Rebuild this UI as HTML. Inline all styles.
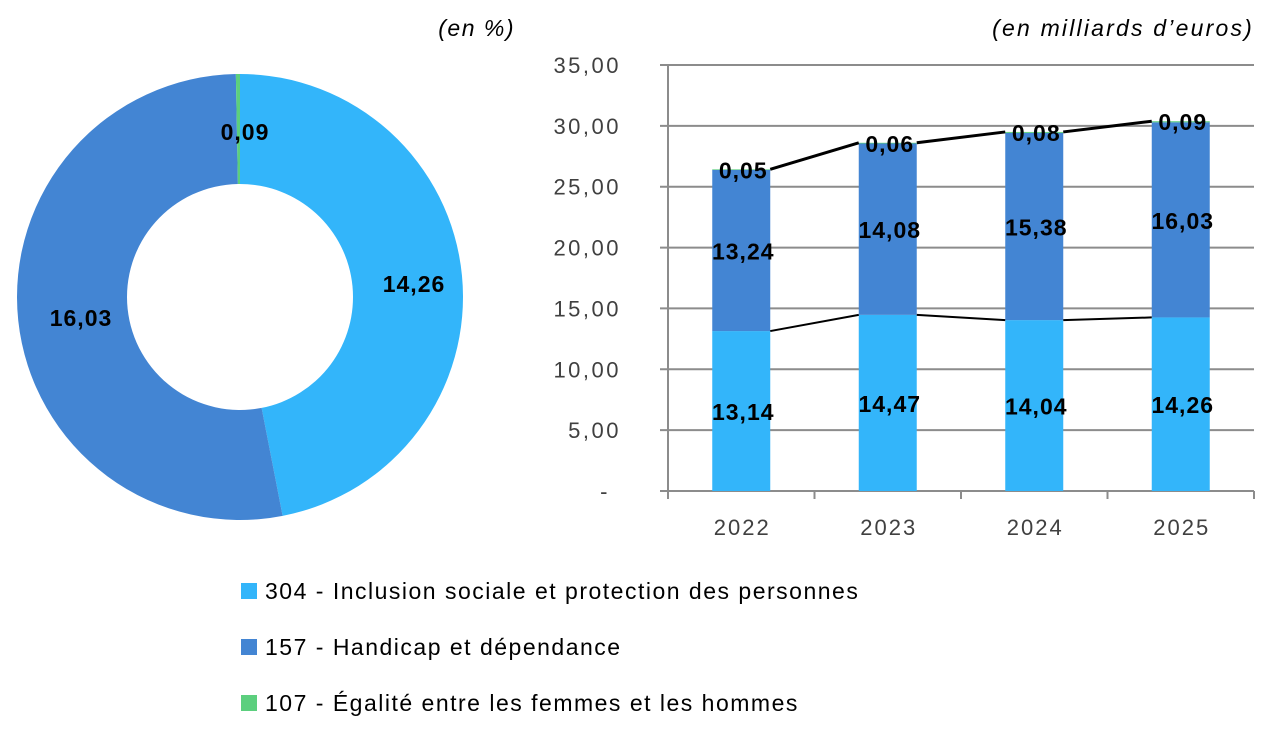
<!DOCTYPE html>
<html><head><meta charset="utf-8"><style>
body{margin:0;width:1280px;height:733px;background:#fff;font-family:"Liberation Sans",sans-serif;overflow:hidden}
svg text{font-family:"Liberation Sans",sans-serif}
</style></head><body>
<svg id="c" width="1280" height="733">
<text x="515" y="36" font-size="23" letter-spacing="1.5" font-style="italic" text-anchor="end" fill="#000">(en %)</text>
<text x="1254" y="36" font-size="23" letter-spacing="2.2" font-style="italic" text-anchor="end" fill="#000">(en milliards d’euros)</text>
<g id="donut"></g>
<g id="bars"></g>
<g id="legend"></g>
</svg>
<script>
const donutValues=[14.26,16.03,0.09];
const donutColors=['#33b5fa','#4385d3','#5ccf7e'];
const years=['2022','2023','2024','2025'];
const s304=[13.14,14.47,14.04,14.26];
const s157=[13.24,14.08,15.38,16.03];
const s107=[0.05,0.06,0.08,0.09];
const yTicks=[0,5,10,15,20,25,30,35];
const legendLabels=['304 - Inclusion sociale et protection des personnes','157 - Handicap et dépendance','107 - Égalité entre les femmes et les hommes'];
const NS='http://www.w3.org/2000/svg';
function mk(t,a,p){const e=document.createElementNS(NS,t);for(const k in a)e.setAttribute(k,a[k]);p.appendChild(e);return e;}
function fmt(v){return v.toFixed(2).replace('.',',');}
// donut
const dg=document.getElementById('donut');
const cx=240,cy=297,R=223,r=113;
const tot=donutValues.reduce((a,b)=>a+b,0);
let ang=0;
donutValues.forEach((v,i)=>{
 const a0=ang,a1=ang+v/tot*2*Math.PI;ang=a1;
 const p=(a,rr)=>[cx+rr*Math.sin(a),cy-rr*Math.cos(a)];
 const [x0,y0]=p(a0,R),[x1,y1]=p(a1,R),[x2,y2]=p(a1,r),[x3,y3]=p(a0,r);
 const lg=(a1-a0)>Math.PI?1:0;
 const path=mk('path',{d:`M${x0},${y0}A${R},${R} 0 ${lg} 1 ${x1},${y1}L${x2},${y2}A${r},${r} 0 ${lg} 0 ${x3},${y3}Z`,fill:donutColors[i]},dg);
 
 
});
const dl=[[414,292],[81,326],[245,140]];
dl.forEach((d,i)=>{const t=mk('text',{x:d[0],y:d[1],'font-size':23,'letter-spacing':1,'font-weight':'bold','text-anchor':'middle',fill:'#000'},dg);t.textContent=fmt(donutValues[i]);
 });
// bars
const bg=document.getElementById('bars');
const x0=668,x1=1254,y0=491,yTop=65;
const ys=v=>y0-(v/35)*(y0-yTop);
const band=(x1-x0)/years.length,bw=58;
const xc=i=>x0+band*(i+0.5);
yTicks.forEach(t=>{
 const g=mk('line',{x1:x0-8,x2:x1,y1:ys(t),y2:ys(t),stroke:'#8c8c8c','stroke-width':2},bg);
 
 const l=mk('text',{x:621,y:ys(t)+8,'font-size':22,'letter-spacing':2.5,'text-anchor':'end',fill:'#404040'},bg);
 l.textContent=t===0?'-':fmt(t);
 if(t===0){l.setAttribute('x',610);}
 
});
const ax=mk('line',{x1:x0,x2:x0,y1:yTop,y2:y0+8,stroke:'#8c8c8c','stroke-width':2},bg);

for(let i=0;i<=years.length;i++){const tk=mk('line',{x1:x0+band*i,x2:x0+band*i,y1:y0,y2:y0+8,stroke:'#8c8c8c','stroke-width':2},bg);
 }
years.forEach((y,i)=>{
 const series=[s304[i],s157[i],s107[i]];let base=0;
 series.forEach((v,j)=>{
  const rc=mk('rect',{x:xc(i)-bw/2,y:ys(base+v),width:bw,height:ys(base)-ys(base+v),fill:donutColors[j]},bg);
  
  base+=v;
 });
 const t=mk('text',{x:xc(i)+1,y:535,'font-size':22,'letter-spacing':2,'text-anchor':'middle',fill:'#404040'},bg);t.textContent=y;
 
});
// series lines
for(let i=0;i<years.length-1;i++){
 const a=s304[i],b=s304[i+1];
 const l1=mk('line',{x1:xc(i)+bw/2,y1:ys(a),x2:xc(i+1)-bw/2,y2:ys(b),stroke:'#000','stroke-width':2},bg);
 
 const ta=s304[i]+s157[i]+s107[i],tb=s304[i+1]+s157[i+1]+s107[i+1];
 const l2=mk('line',{x1:xc(i)+bw/2,y1:ys(ta),x2:xc(i+1)-bw/2,y2:ys(tb),stroke:'#000','stroke-width':3},bg);
 
}
years.forEach((y,i)=>{
 const labs=[[s304[i],s304[i]/2],[s157[i],s304[i]+s157[i]/2],[s107[i],s304[i]+s157[i]+s107[i]]];
 labs.forEach((d,j)=>{
  const t=mk('text',{x:xc(i)+2,y:ys(d[1])+9,'font-size':23,'letter-spacing':1,'font-weight':'bold','text-anchor':'middle',fill:'#000'},bg);
  t.textContent=fmt(d[0]);
  
 });
});
// legend
const lgd=document.getElementById('legend');
legendLabels.forEach((s,i)=>{
 const y=591+i*56;
 const r=mk('rect',{x:241,y:y-8,width:16,height:16,fill:donutColors[i]},lgd);
 
 const t=mk('text',{x:265,y:y+8,'font-size':23,'letter-spacing':1.5,fill:'#000'},lgd);t.textContent=s;
 
});
</script>
</body></html>
